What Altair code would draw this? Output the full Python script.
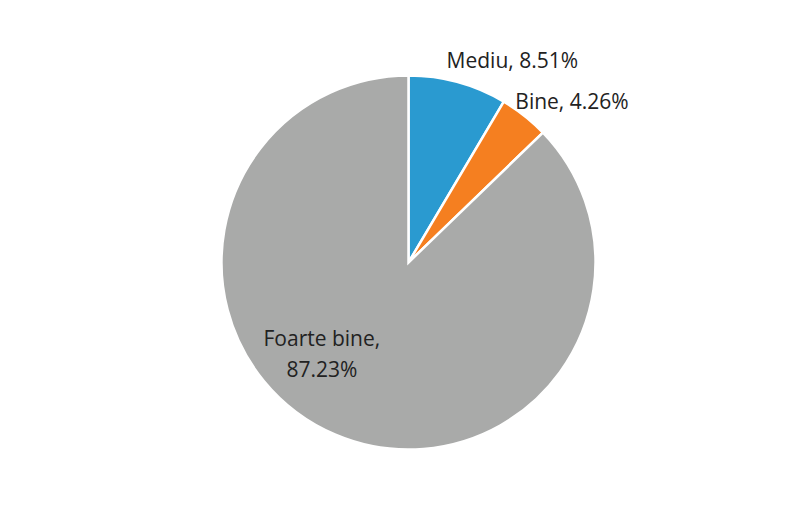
import altair as alt
import pandas as pd

categories = ["Mediu", "Bine", "Foarte bine"]
values = [8.51, 4.26, 87.23]
labels = [["Mediu, 8.51%"], ["Bine, 4.26%"], ["Foarte bine,", "87.23%"]]
colors = ["#2A9AD0", "#F57F20", "#A9AAA9"]

df = pd.DataFrame({"cat": categories, "val": values, "label": labels, "order": [0, 1, 2]})

CX, CY = 400.5, 254.5
theta_scale = alt.Scale(domain=[0, 100])

pie = alt.Chart(df).mark_arc(outerRadius=187, stroke="white", strokeWidth=2.5).encode(
    theta=alt.Theta("val:Q", stack=True, scale=theta_scale),
    order=alt.Order("order:Q"),
    color=alt.Color("cat:N", scale=alt.Scale(domain=categories, range=colors), legend=None),
    x=alt.value(CX), y=alt.value(CY),
)

text_base = alt.Chart(df).transform_window(
    cum="sum(val)", sort=[alt.SortField("order")]
).transform_calculate(mid="datum.cum - datum.val / 2")

def lab(cat, r, dx, dy):
    return text_base.transform_filter(alt.datum.cat == cat).mark_text(
        radius=r, dx=dx, dy=dy, fontSize=21, font="Open Sans",
        color="#222222", lineHeight=31, baseline="middle", align="center"
    ).encode(
        theta=alt.Theta("mid:Q", scale=theta_scale),
        text="label", x=alt.value(CX), y=alt.value(CY),
    )

chart = alt.layer(
    pie,
    lab("Mediu", 200, 51, -8),
    lab("Bine", 200, 39.5, -2.5),
    lab("Foarte bine", 100, -47.6, -15),
).properties(width=784, height=490, padding=0, autosize=alt.AutoSizeParams(type="none")).configure_view(strokeWidth=0)

chart.save("out.html", embed_options={"renderer": "svg", "actions": False})
